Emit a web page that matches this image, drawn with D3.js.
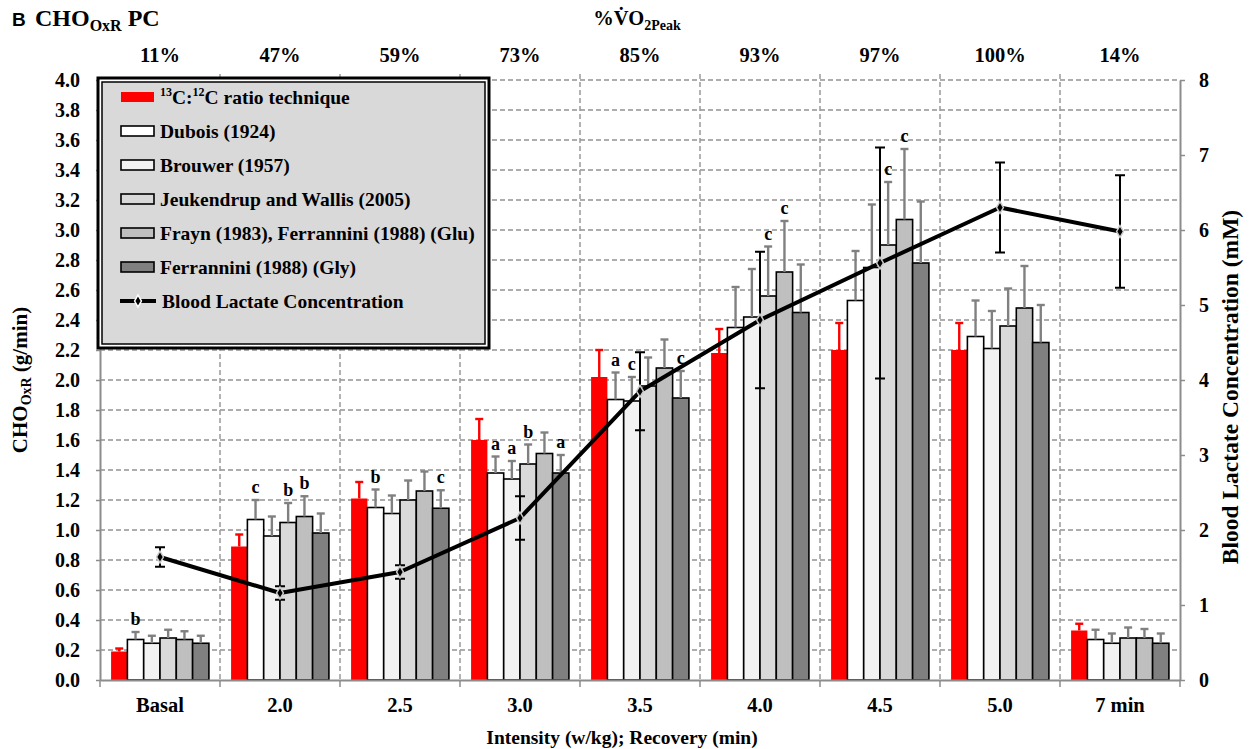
<!DOCTYPE html>
<html>
<head>
<meta charset="utf-8">
<script src="https://cdn.jsdelivr.net/npm/d3@7"></script>
<style>
  body { margin: 0; background: #fff; }
  svg text { font-family: "Liberation Serif", "Times New Roman", serif; font-weight: bold; fill: #000; }
</style>
</head>
<body>
<svg id="chart" width="1254" height="749"></svg>
<script>
// категории по оси X и проценты VO2peak сверху
const categories = ["Basal", "2.0", "2.5", "3.0", "3.5", "4.0", "4.5", "5.0", "7 min"];
const vo2Labels = ["11%", "47%", "59%", "73%", "85%", "93%", "97%", "100%", "14%"];

// CHO oxidation rate (g/min) и верхняя ошибка (SD)
const ratio13C    = [0.19, 0.89, 1.21, 1.60, 2.02, 2.18, 2.20, 2.20, 0.33];
const ratio13CErr = [0.02, 0.08, 0.11, 0.14, 0.18, 0.16, 0.18, 0.18, 0.045];
const dubois      = [0.27, 1.07, 1.15, 1.38, 1.87, 2.35, 2.53, 2.29, 0.27];
const duboisErr   = [0.05, 0.13, 0.12, 0.11, 0.18, 0.27, 0.33, 0.24, 0.065];
const brouwer     = [0.245, 0.96, 1.11, 1.34, 1.86, 2.42, 2.75, 2.21, 0.245];
const brouwerErr  = [0.05, 0.13, 0.12, 0.12, 0.16, 0.32, 0.42, 0.25, 0.065];
const jeuk        = [0.28, 1.05, 1.20, 1.44, 1.96, 2.56, 2.90, 2.36, 0.28];
const jeukErr     = [0.055, 0.13, 0.13, 0.13, 0.19, 0.33, 0.42, 0.25, 0.07];
const frayn       = [0.27, 1.09, 1.26, 1.51, 2.08, 2.72, 3.07, 2.48, 0.28];
const fraynErr    = [0.055, 0.135, 0.13, 0.14, 0.19, 0.34, 0.47, 0.28, 0.06];
const gly         = [0.245, 0.98, 1.145, 1.38, 1.88, 2.45, 2.78, 2.25, 0.245];
const glyErr      = [0.05, 0.13, 0.12, 0.12, 0.18, 0.32, 0.41, 0.25, 0.065];

// лактат крови (mM) и SD
const lactate    = [1.64, 1.16, 1.44, 2.16, 3.85, 4.80, 5.56, 6.30, 5.98];
const lactateErr = [0.13, 0.09, 0.09, 0.29, 0.52, 0.91, 1.54, 0.60, 0.75];

// буквы значимости: [категория, серия, буква]
const sigLabels = [
  [0, 1, "b"],
  [1, 1, "c"], [1, 3, "b"], [1, 4, "b"],
  [2, 1, "b"], [2, 5, "c"],
  [3, 1, "a"], [3, 2, "a"], [3, 3, "b"], [3, 5, "a"],
  [4, 1, "a"], [4, 2, "c"], [4, 5, "c"],
  [5, 3, "c"], [5, 4, "c"],
  [6, 3, "c"], [6, 4, "c"]
];

const leftTicks = d3.range(0, 4.01, 0.2);
const rightTicks = d3.range(0, 9, 1);

const series = [
  { name: "ratio", values: ratio13C, err: ratio13CErr, fill: "#ff0000", stroke: "none", errColor: "#ff0000" },
  { name: "Dubois (1924)", values: dubois, err: duboisErr, fill: "#ffffff", stroke: "#000", errColor: "#808080" },
  { name: "Brouwer (1957)", values: brouwer, err: brouwerErr, fill: "#f2f2f2", stroke: "#000", errColor: "#808080" },
  { name: "Jeukendrup and Wallis (2005)", values: jeuk, err: jeukErr, fill: "#d9d9d9", stroke: "#000", errColor: "#808080" },
  { name: "Frayn (1983), Ferrannini (1988) (Glu)", values: frayn, err: fraynErr, fill: "#bfbfbf", stroke: "#000", errColor: "#808080" },
  { name: "Ferrannini (1988) (Gly)", values: gly, err: glyErr, fill: "#808080", stroke: "#000", errColor: "#808080" }
];

const pLeft = 100, pRight = 1180, pTop = 80, pBottom = 680;
const svg = d3.select("#chart");

const x = d3.scaleBand().domain(categories).range([pLeft, pRight]).padding(0);
const xs = d3.scaleBand().domain(d3.range(series.length)).range([0, x.bandwidth()])
  .paddingInner(0).paddingOuter(0.68);
const y = d3.scaleLinear().domain([0, 4]).range([pBottom, pTop]);
const y2 = d3.scaleLinear().domain([0, 8]).range([pBottom, pTop]);

// сетка
const grid = svg.append("g").attr("class", "grid");
grid.selectAll(".hg").data(leftTicks.slice(1)).enter().append("line")
  .attr("x1", pLeft).attr("x2", pRight)
  .attr("y1", d => y(d)).attr("y2", d => y(d))
  .attr("stroke", "#939393").attr("stroke-width", 1.4).attr("stroke-dasharray", "5,3");
grid.selectAll(".vg").data(categories.slice(1)).enter().append("line")
  .attr("x1", d => x(d)).attr("x2", d => x(d))
  .attr("y1", pTop - 6).attr("y2", pBottom)
  .attr("stroke", "#939393").attr("stroke-width", 1.4).attr("stroke-dasharray", "5,3");

// столбцы
const groups = svg.append("g").selectAll(".grp").data(categories).enter().append("g")
  .attr("transform", d => `translate(${x(d)},0)`);

series.forEach((s, si) => {
  groups.append("rect")
    .attr("x", xs(si)).attr("width", xs.bandwidth())
    .attr("y", (d, i) => y(s.values[i]))
    .attr("height", (d, i) => pBottom - y(s.values[i]))
    .attr("fill", s.fill).attr("stroke", s.stroke).attr("stroke-width", 1.6);
  const cx = xs(si) + xs.bandwidth() / 2;
  groups.append("line")
    .attr("x1", cx).attr("x2", cx)
    .attr("y1", (d, i) => y(s.values[i])).attr("y2", (d, i) => y(s.values[i] + s.err[i]))
    .attr("stroke", s.errColor).attr("stroke-width", 2.4);
  groups.append("line")
    .attr("x1", cx - 4).attr("x2", cx + 4)
    .attr("y1", (d, i) => y(s.values[i] + s.err[i])).attr("y2", (d, i) => y(s.values[i] + s.err[i]))
    .attr("stroke", s.errColor).attr("stroke-width", 2.4);
});

// буквы значимости
svg.append("g").selectAll("text").data(sigLabels).enter().append("text")
  .attr("x", d => x(categories[d[0]]) + xs(d[1]) + xs.bandwidth() / 2)
  .attr("y", d => y(series[d[1]].values[d[0]] + series[d[1]].err[d[0]]) - 7)
  .attr("text-anchor", "middle").attr("font-size", 18)
  .text(d => d[2]);

// линия лактата
const lx = d => x(d) + x.bandwidth() / 2;
const lac = svg.append("g");
lac.append("path")
  .datum(categories)
  .attr("fill", "none").attr("stroke", "#000").attr("stroke-width", 4)
  .attr("stroke-linejoin", "round")
  .attr("d", d3.line().x(d => lx(d)).y((d, i) => y2(lactate[i])));
lac.selectAll(".eb").data(categories).enter().append("path")
  .attr("fill", "none").attr("stroke", "#000").attr("stroke-width", 2)
  .attr("d", (d, i) => {
    const cx = lx(d), y1 = y2(lactate[i] + lactateErr[i]), y0 = y2(lactate[i] - lactateErr[i]);
    return `M${cx},${y1}V${y0}M${cx - 5},${y1}H${cx + 5}M${cx - 5},${y0}H${cx + 5}`;
  });
lac.selectAll(".mk").data(categories).enter().append("path")
  .attr("transform", (d, i) => `translate(${lx(d)},${y2(lactate[i])})`)
  .attr("d", d3.symbol().type(d3.symbolDiamond).size(40))
  .attr("fill", "#000").attr("stroke", "#ccc").attr("stroke-width", 1.5);

// оси
const axisStyle = g => {
  g.attr("font-family", null);
  g.select(".domain").attr("stroke", "#8c8c8c").attr("stroke-width", 2);
  g.selectAll(".tick line").attr("stroke", "#8c8c8c").attr("stroke-width", 1.5);
  g.selectAll(".tick text").attr("font-size", 20);
};
svg.append("g").attr("transform", `translate(${pLeft},0)`)
  .call(d3.axisLeft(y).tickValues(leftTicks).tickFormat(d3.format(".1f")).tickSize(4).tickPadding(16).tickSizeOuter(0))
  .call(axisStyle);
svg.append("g").attr("transform", `translate(${pRight},0)`)
  .call(d3.axisRight(y2).tickValues(rightTicks).tickFormat(d3.format("d")).tickSize(5).tickPadding(14).tickSizeOuter(0))
  .call(axisStyle);
const xAxis = svg.append("g").attr("transform", `translate(0,${pBottom})`)
  .call(d3.axisBottom(x).tickSize(0).tickPadding(24))
  .call(axisStyle);
xAxis.selectAll(".tick text").attr("dy", "0.4em").attr("font-size", 20.5);
// тики на границах категорий
svg.append("g").selectAll("line").data(categories.concat([null])).enter().append("line")
  .attr("x1", (d, i) => pLeft + i * x.step()).attr("x2", (d, i) => pLeft + i * x.step())
  .attr("y1", pBottom).attr("y2", pBottom + 7)
  .attr("stroke", "#8c8c8c").attr("stroke-width", 1.5);

// проценты VO2peak сверху
svg.append("g").selectAll("text").data(categories).enter().append("text")
  .attr("x", d => lx(d)).attr("y", 62)
  .attr("text-anchor", "middle").attr("font-size", 20.5)
  .text((d, i) => vo2Labels[i]);

// заголовки
svg.append("text").attr("x", 12).attr("y", 26)
  .style("font-family", "'Liberation Sans', Arial, sans-serif").attr("font-size", 19).text("B");
const title = svg.append("text").attr("x", 35).attr("y", 26);
title.append("tspan").attr("font-size", 24).text("CHO");
title.append("tspan").attr("font-size", 16).attr("dy", 5).text("OxR");
title.append("tspan").attr("font-size", 24).attr("dy", -5).text(" PC");

const vo2Title = svg.append("text").attr("x", 637).attr("y", 25).attr("text-anchor", "middle").attr("font-size", 20.5);
vo2Title.append("tspan").text("%V\u0307O");
vo2Title.append("tspan").attr("font-size", 14).attr("dy", 5).text("2Peak");

svg.append("text").attr("x", 622).attr("y", 744).attr("text-anchor", "middle").attr("font-size", 19.5)
  .text("Intensity (w/kg); Recovery (min)");

const yTitle = svg.append("text").attr("transform", "translate(27,380) rotate(-90)")
  .attr("text-anchor", "middle").attr("font-size", 21);
yTitle.append("tspan").text("CHO");
yTitle.append("tspan").attr("font-size", 14).attr("dy", 4).text("OxR");
yTitle.append("tspan").attr("dy", -4).text(" (g/min)");

svg.append("text").attr("transform", "translate(1238,387) rotate(-90)")
  .attr("text-anchor", "middle").attr("font-size", 23.5)
  .text("Blood Lactate Concentration (mM)");

// легенда
const lg = svg.append("g");
lg.append("rect").attr("x", 98).attr("y", 78).attr("width", 391).attr("height", 270)
  .attr("fill", "#fff").attr("stroke", "#000").attr("stroke-width", 3);
lg.append("rect").attr("x", 102).attr("y", 82).attr("width", 383).attr("height", 262)
  .attr("fill", "#d9d9d9").attr("stroke", "#000").attr("stroke-width", 1.5);
const rowY = i => 97 + i * 34;
series.forEach((s, i) => {
  lg.append("rect").attr("x", 121).attr("y", rowY(i) - 5).attr("width", 33).attr("height", 10)
    .attr("fill", s.fill).attr("stroke", s.stroke).attr("stroke-width", 1.6);
  const t = lg.append("text").attr("x", 160).attr("y", rowY(i) + 7).attr("font-size", 19.5);
  if (i === 0) {
    t.append("tspan").attr("font-size", 12).attr("dy", -8).text("13");
    t.append("tspan").attr("dy", 8).text("C:");
    t.append("tspan").attr("font-size", 12).attr("dy", -8).text("12");
    t.append("tspan").attr("dy", 8).text("C ratio technique");
  } else {
    t.text(s.name);
  }
});
const ly = rowY(6);
lg.append("line").attr("x1", 120).attr("x2", 156).attr("y1", ly).attr("y2", ly)
  .attr("stroke", "#000").attr("stroke-width", 4);
lg.append("path").attr("transform", `translate(138,${ly})`)
  .attr("d", d3.symbol().type(d3.symbolDiamond).size(40))
  .attr("fill", "#000").attr("stroke", "#fff").attr("stroke-width", 1.5);
lg.append("text").attr("x", 162).attr("y", ly + 7).attr("font-size", 19.5).text("Blood Lactate Concentration");
</script>
</body>
</html>
